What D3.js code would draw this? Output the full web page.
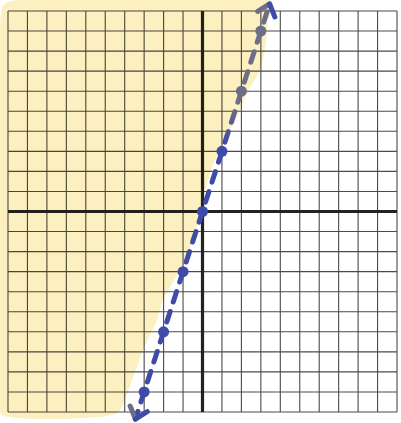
<!DOCTYPE html>
<html>
<head>
<meta charset="utf-8">
<script src="https://cdn.jsdelivr.net/npm/d3@7"></script>
<style>
  body { margin: 0; background: #fff; }
  .shade { mix-blend-mode: multiply; }
</style>
</head>
<body>
<div id="chart"></div>
<script>
const width = 401;
const height = 423;

// grid ticks, -10 .. 10
const gridTicks = [-10, -9, -8, -7, -6, -5, -4, -3, -2, -1, 0, 1, 2, 3, 4, 5, 6, 7, 8, 9, 10];

// plotted points of y = 3x
const pointX = [-3, -2, -1, 0, 1, 2, 3];
const pointY = [-9, -6, -3, 0, 3, 6, 9];

// ends of the boundary line (arrow tips)
const lineEndX = [-3.45, 3.45];
const lineEndY = [-10.35, 10.35];

// hand drawn highlighter region (data units)
const shadeX = [3.57, 3.37, 3.21, 2.96, 2.34, 1.93, 1.16, 0.54, 0.08, -0.28, -0.90, -2.03, -2.34, -3.06, -3.62, -4.24, -4.65, -10.31, -10.41, -10.41, -10.21, -9.79];
const shadeY = [10.45, 9.55, 8.05, 7.06, 6.05, 5.06, 3.57, 2.32, 0.82, -0.67, -2.42, -4.41, -5.41, -6.91, -8.40, -9.90, -10.15, -10.15, -9.90, 9.30, 10.30, 10.50];

const svg = d3.select("#chart")
  .append("svg")
  .attr("width", width)
  .attr("height", height);

const x = d3.scaleLinear().domain([-10, 10]).range([8, 397]);
const y = d3.scaleLinear().domain([-10, 10]).range([412, 11]);

// colour change from blue to grey along the line
const grad = svg.append("defs").append("linearGradient")
  .attr("id", "lineGrad")
  .attr("gradientUnits", "userSpaceOnUse")
  .attr("x1", 0).attr("x2", 0)
  .attr("y1", y(-10)).attr("y2", y(10));
grad.append("stop").attr("offset", 0.67).attr("stop-color", "#3e4ba8");
grad.append("stop").attr("offset", 0.76).attr("stop-color", "#6c6d86");

// grid
const grid = svg.append("g");
grid.selectAll(".vline")
  .data(gridTicks)
  .enter().append("line")
  .attr("x1", d => x(d)).attr("x2", d => x(d))
  .attr("y1", y(-10)).attr("y2", y(10))
  .attr("stroke", "#4a4a4a")
  .attr("stroke-width", 1.1);
grid.selectAll(".hline")
  .data(gridTicks)
  .enter().append("line")
  .attr("y1", d => y(d)).attr("y2", d => y(d))
  .attr("x1", x(-10)).attr("x2", x(10))
  .attr("stroke", "#4a4a4a")
  .attr("stroke-width", 1.1);

// axes
svg.append("line")
  .attr("x1", x(0)).attr("x2", x(0))
  .attr("y1", y(-10)).attr("y2", y(10))
  .attr("stroke", "#222")
  .attr("stroke-width", 3.2);
svg.append("line")
  .attr("x1", x(-10)).attr("x2", x(10))
  .attr("y1", y(0)).attr("y2", y(0))
  .attr("stroke", "#222")
  .attr("stroke-width", 3.2);

// shaded region
const shadeLine = d3.line()
  .x(d => x(shadeX[d]))
  .y(d => y(shadeY[d]))
  .curve(d3.curveCatmullRomClosed);
svg.append("path")
  .attr("class", "shade")
  .attr("d", shadeLine(d3.range(shadeX.length)))
  .attr("fill", "#fcefc0");

// dashed boundary line
svg.append("line")
  .attr("x1", x(lineEndX[0])).attr("y1", y(lineEndY[0]))
  .attr("x2", x(lineEndX[1])).attr("y2", y(lineEndY[1]))
  .attr("stroke", "url(#lineGrad)")
  .attr("stroke-width", 5)
  .attr("stroke-linecap", "round")
  .attr("stroke-dasharray", "11 10")
  .attr("stroke-dashoffset", 3);

// points
svg.selectAll(".pt")
  .data(pointX)
  .enter().append("circle")
  .attr("cx", d => x(d))
  .attr("cy", (d, i) => y(pointY[i]))
  .attr("r", 5.5)
  .attr("fill", "url(#lineGrad)");

// arrow heads
const armLen = 14;
const rot = (v, a) => [v[0] * Math.cos(a) - v[1] * Math.sin(a), v[0] * Math.sin(a) + v[1] * Math.cos(a)];
const tips = [0, 1].map(i => [x(lineEndX[i]), y(lineEndY[i])]);
const dx = tips[1][0] - tips[0][0], dy = tips[1][1] - tips[0][1];
const len = Math.hypot(dx, dy);
const up = [dx / len, dy / len];
const heads = [
  { tip: tips[1], back: [-up[0], -up[1]], grey: 40, blue: -40 },
  { tip: tips[0], back: up, grey: -40, blue: 40 }
];
heads.forEach(h => {
  [["grey", "#6c6d86"], ["blue", "#3e4ba8"]].forEach(([k, c]) => {
    const v = rot(h.back, h[k] * Math.PI / 180);
    svg.append("line")
      .attr("x1", h.tip[0]).attr("y1", h.tip[1])
      .attr("x2", h.tip[0] + v[0] * armLen).attr("y2", h.tip[1] + v[1] * armLen)
      .attr("stroke", c)
      .attr("stroke-width", 5)
      .attr("stroke-linecap", "round");
  });
});
</script>
</body>
</html>
